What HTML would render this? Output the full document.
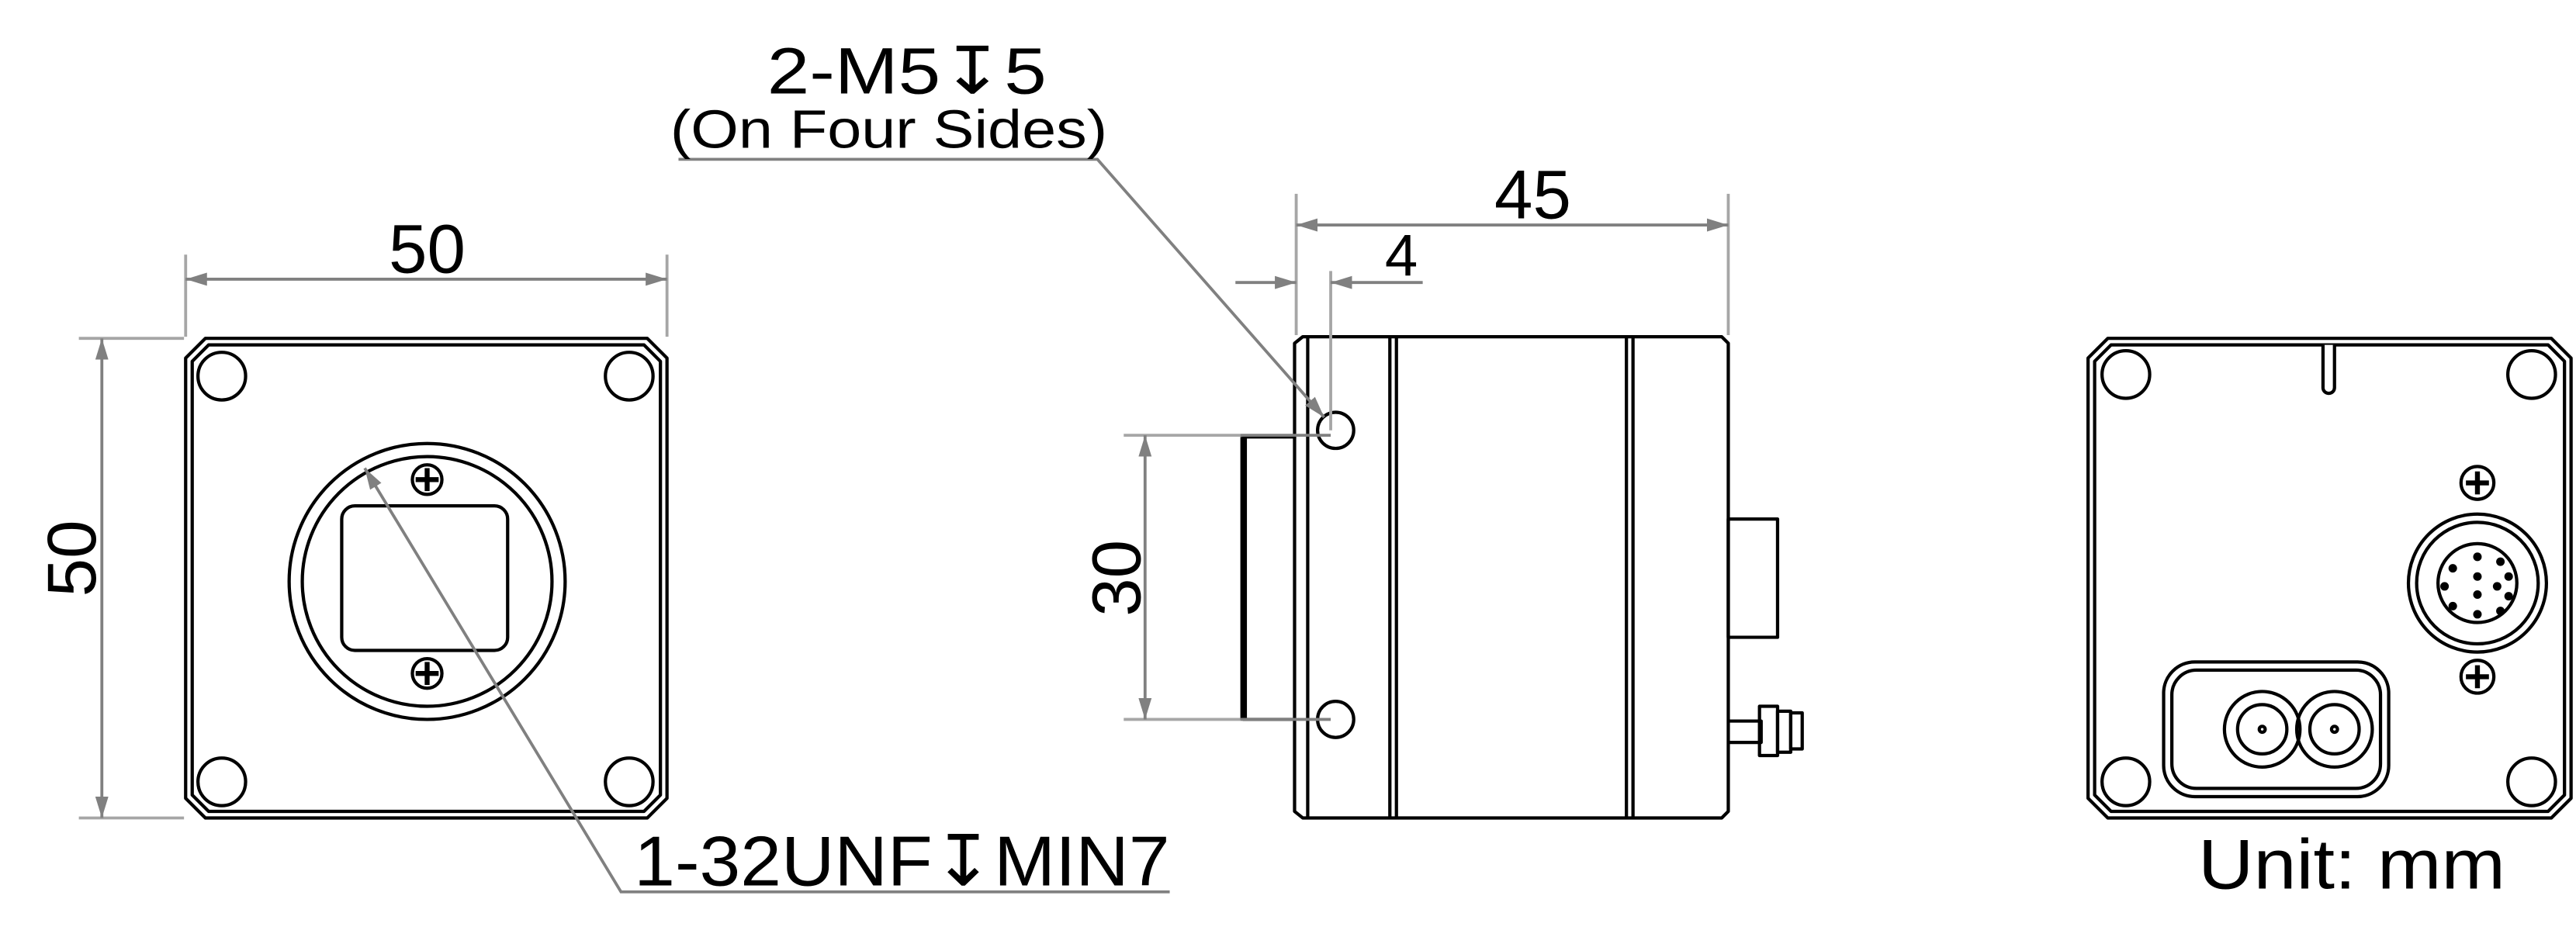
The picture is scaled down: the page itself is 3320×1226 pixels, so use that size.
<!DOCTYPE html>
<html><head><meta charset="utf-8"><style>
html,body{margin:0;padding:0;background:#fff;}
svg{display:block;}
text{font-family:"Liberation Sans","DejaVu Sans",sans-serif;fill:#000;}
</style></head><body>
<svg width="3320" height="1226" viewBox="0 0 1568 579" preserveAspectRatio="none" xmlns="http://www.w3.org/2000/svg">
<defs>
<marker id="a" viewBox="0 0 13 8" refX="13" refY="4" markerWidth="13" markerHeight="8" markerUnits="userSpaceOnUse" orient="auto-start-reverse"><path d="M0,0 L13,4 L0,8 Z" fill="#808080"/></marker>
</defs>
<g fill="none" stroke="#000" stroke-width="2" stroke-linejoin="round">
<!-- LEFT VIEW -->
<path d="M125,206 H394 L406,218 V486 L394,498 H125 L113,486 V218 Z"/>
<path d="M127,210 H392 L402,220 V484 L392,494 H127 L117,484 V220 Z"/>
<circle cx="135" cy="229" r="14.5"/><circle cx="383" cy="229" r="14.5"/>
<circle cx="135" cy="476" r="14.5"/><circle cx="383" cy="476" r="14.5"/>
<circle cx="260" cy="354" r="84"/><circle cx="260" cy="354" r="76"/>
<rect x="208" y="308" width="101" height="88" rx="8"/>
<circle cx="260" cy="292" r="9"/><circle cx="260" cy="410" r="9"/>
<path d="M260,285 V299 M253,292 H267 M260,403 V417 M253,410 H267" stroke-width="3"/>
<!-- MIDDLE VIEW -->
<path d="M793,205 H1048 L1052,209 V494 L1048,498 H793 L788,494 V209 Z"/>
<path d="M796,205 V498 M846,205 V498 M850,205 V498 M990,205 V498 M994,205 V498"/>
<path d="M789,266 H757 V438 H789"/>
<path d="M757,266 V438" stroke-width="4"/>
<circle cx="813" cy="262" r="11"/><circle cx="813" cy="438" r="11"/>
<rect x="1052" y="316" width="30" height="72"/>
<path d="M1052,439 H1072 V452 H1052"/>
<rect x="1071" y="430" width="11" height="30"/>
<rect x="1082" y="433" width="8" height="25"/>
<rect x="1090" y="434" width="7" height="22"/>
<!-- RIGHT VIEW -->
<path d="M1283,206 H1553 L1565,218 V486 L1553,498 H1283 L1271,486 V218 Z"/>
<path d="M1285,210 H1551 L1561,220 V484 L1551,494 H1285 L1275,484 V220 Z"/>
<circle cx="1294" cy="228" r="14.5"/><circle cx="1541" cy="228" r="14.5"/>
<circle cx="1294" cy="476" r="14.5"/><circle cx="1541" cy="476" r="14.5"/>
<path d="M1414,210 V236 A3.5,3.5 0 0 0 1421,236 V210" fill="#fff"/>
<circle cx="1508" cy="355" r="42"/><circle cx="1508" cy="355" r="37"/><circle cx="1508" cy="355" r="24"/>
<circle cx="1508" cy="294" r="10"/><circle cx="1508" cy="412" r="10"/>
<path d="M1508,287 V301 M1501,294 H1515 M1508,405 V419 M1501,412 H1515" stroke-width="3"/>
<rect x="1317" y="403" width="137" height="82" rx="19"/>
<rect x="1322" y="408" width="127" height="72" rx="15"/>
<circle cx="1377" cy="444" r="23"/><circle cx="1377" cy="444" r="15"/><circle cx="1377" cy="444" r="1.8"/>
<circle cx="1421" cy="444" r="23"/><circle cx="1421" cy="444" r="15"/><circle cx="1421" cy="444" r="1.8"/>
</g>
<g fill="#000">
<circle cx="1508" cy="339" r="2.6"/><circle cx="1522" cy="342" r="2.6"/><circle cx="1493" cy="346" r="2.6"/>
<circle cx="1508" cy="351" r="2.6"/><circle cx="1527" cy="351" r="2.6"/><circle cx="1488" cy="357" r="2.6"/>
<circle cx="1520" cy="357" r="2.6"/><circle cx="1508" cy="362" r="2.6"/><circle cx="1527" cy="363" r="2.6"/>
<circle cx="1493" cy="369" r="2.6"/><circle cx="1522" cy="372" r="2.6"/><circle cx="1508" cy="374" r="2.6"/>
</g>
<!-- DIMENSIONS -->
<g fill="none" stroke="#a6a6a6" stroke-width="1.8">
<path d="M113,155 V205 M406,155 V205 M48,206 H112 M48,498 H112"/>
<path d="M789,118 V204 M1052,118 V204 M810,165 V262 M684,265 H755 M684,438 H755"/>
</g>
<g fill="none" stroke="#808080" stroke-width="1.8">
<path d="M113,170 H406" marker-start="url(#a)" marker-end="url(#a)"/>
<path d="M62,206 V498" marker-start="url(#a)" marker-end="url(#a)"/>
<path d="M789,137 H1052" marker-start="url(#a)" marker-end="url(#a)"/>
<path d="M752,172 H789" marker-end="url(#a)"/>
<path d="M866,172 H810" marker-end="url(#a)"/>
<path d="M697,265 V438" marker-start="url(#a)" marker-end="url(#a)"/>
<path d="M755,265 H810 M755,438 H810"/>
<path d="M712,543 H378 L222,285" marker-end="url(#a)"/>
<path d="M413,97 H668 L806,254" marker-end="url(#a)"/>
</g>
<!-- TEXT -->
<text x="260" y="166" font-size="42" text-anchor="middle">50</text>
<text transform="translate(58,340) rotate(-90)" font-size="42" text-anchor="middle">50</text>
<text x="933" y="133" font-size="42" text-anchor="middle">45</text>
<text x="853" y="168" font-size="36" text-anchor="middle">4</text>
<text transform="translate(694,352) rotate(-90)" font-size="42" text-anchor="middle">30</text>
<text x="552" y="57" font-size="40" text-anchor="middle" textLength="170" lengthAdjust="spacingAndGlyphs">2-M5↧5</text>
<text x="541" y="90" font-size="33" text-anchor="middle" textLength="266" lengthAdjust="spacingAndGlyphs">(On Four Sides)</text>
<text x="386" y="539" font-size="43" textLength="326" lengthAdjust="spacingAndGlyphs">1-32UNF↧MIN7</text>
<text x="1338" y="541" font-size="43" textLength="187" lengthAdjust="spacingAndGlyphs">Unit: mm</text>
</svg>
</body></html>
